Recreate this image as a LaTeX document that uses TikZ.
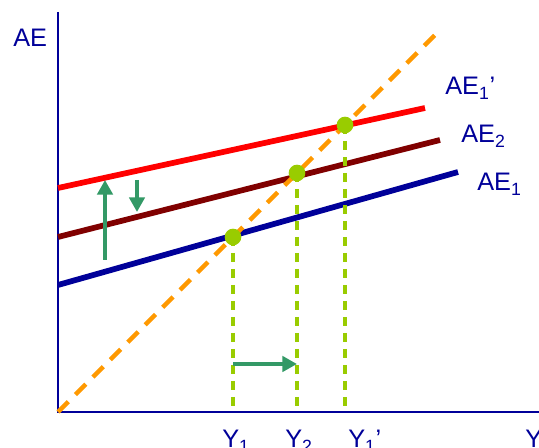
\documentclass[tikz,border=0pt]{standalone}
\usepackage{fontspec}
\setmainfont{Liberation Sans}
\usetikzlibrary{arrows.meta,positioning}
\definecolor{inkblue}{HTML}{000099}
\definecolor{aeone}{HTML}{000099}
\definecolor{aetwo}{HTML}{800000}
\definecolor{aeup}{HTML}{FF0000}
\definecolor{guide}{HTML}{FF9900}
\definecolor{dotgreen}{HTML}{99CC00}
\definecolor{shiftgreen}{HTML}{339966}

\begin{document}
\begin{tikzpicture}[
  x=0.75pt, y=-0.75pt,
  font=\fontsize{19}{21}\selectfont,
  lbl/.style={text=inkblue, inner sep=0pt, anchor=base west},
  axis/.style={draw=inkblue, line width=1.7pt},
  aeline/.style={line width=4.3pt},
  diag/.style={draw=guide, line width=3.3pt, dash pattern=on 11pt off 7.5pt},
  drop/.style={draw=dotgreen, line width=2.7pt, dash pattern=on 6.75pt off 5.25pt},
  eq/.style={circle, fill=dotgreen, inner sep=0pt, minimum size=12.5pt},
  movearrow/.style={-{Triangle[length=11pt, width=11.5pt]}, draw=shiftgreen, line width=3.4pt}
]
\useasboundingbox (0,0) rectangle (539,448);

\coordinate (O) at (58,412);
\coordinate (ytop) at (58,12);
\coordinate (xend) at (539,412);
\coordinate (d45) at (440,30);
\coordinate (a1s) at (58,285);
\coordinate (a1e) at (458,172);
\coordinate (a2s) at (58,237);
\coordinate (a2e) at (440,140);
\coordinate (a3s) at (58,188);
\coordinate (a3e) at (425,108);

\node[lbl] (yl) at (13,47) {AE};
\node[lbl] (l3) at (445,95) {AE\textsubscript{1}’};
\node[lbl] (l2) at (461,143) {AE\textsubscript{2}};
\node[lbl] (l1) at (477,191) {AE\textsubscript{1}};
\node[lbl] (y1) at (222,448) {Y\textsubscript{1}};
\node[lbl] (y2) at (285,448) {Y\textsubscript{2}};
\node[lbl] (y3) at (348,448) {Y\textsubscript{1}’};
\node[lbl] (yx) at (525,448) {Y};

\draw[axis] (ytop) -- (O) -- (xend);

\draw[aeline, aeone] (a1s) -- (a1e);
\draw[aeline, aetwo] (a2s) -- (a2e);
\draw[aeline, aeup] (a3s) -- (a3e);
\draw[diag] (O) -- (d45);

\coordinate (e1) at (233,237);
\coordinate (e2) at (297,173);
\coordinate (e3) at (345,125);
\draw[drop] (e1) -- (e1 |- O);
\draw[drop] (e2) -- (e2 |- O);
\draw[drop] (e3) -- (e3 |- O);
\node[eq] (p1) at (e1) {};
\node[eq] (p2) at (e2) {};
\node[eq] (p3) at (e3) {};

\coordinate (upS) at (105,260);
\coordinate (upE) at (105,180);
\coordinate (dnS) at (137,180);
\coordinate (dnE) at (137,212);
\coordinate (rtS) at (233,364);
\coordinate (rtE) at (297,364);
\draw[movearrow] (upS) -- (upE);
\draw[movearrow] (dnS) -- (dnE);
\draw[movearrow] (rtS) -- (rtE);
\end{tikzpicture}
\end{document}
